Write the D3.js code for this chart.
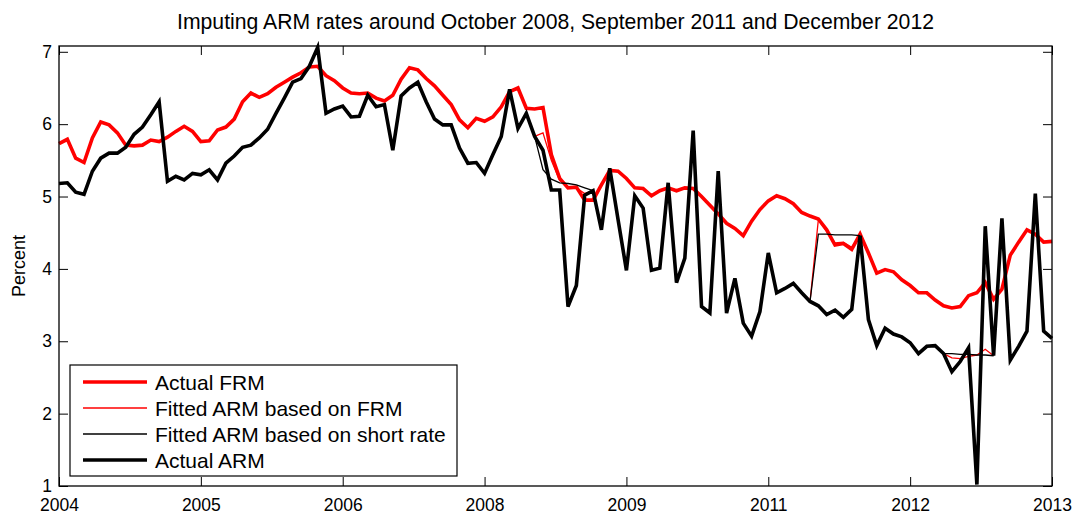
<!DOCTYPE html>
<html>
<head>
<meta charset="utf-8">
<script src="https://cdn.jsdelivr.net/npm/d3@7"></script>
<style>
body { margin: 0; background: #fff; }
text { font-family: "Liberation Sans", Arial, Helvetica, sans-serif; }
</style>
</head>
<body>
<div id="chart"></div>
<script>
// monthly, Jan 2004 .. Dec 2013 (120 points)
const actualFRM = [
    5.73, 5.79, 5.53, 5.47, 5.81, 6.03, 5.99, 5.88, 5.71, 5.70,
    5.71, 5.78, 5.76, 5.82, 5.90, 5.97, 5.90, 5.76, 5.77, 5.92,
    5.96, 6.07, 6.31, 6.43, 6.37, 6.42, 6.51, 6.58, 6.65, 6.71,
    6.79, 6.80, 6.67, 6.60, 6.50, 6.43, 6.42, 6.43, 6.36, 6.32,
    6.40, 6.62, 6.78, 6.75, 6.63, 6.53, 6.40, 6.27, 6.06, 5.95,
    6.08, 6.04, 6.10, 6.24, 6.45, 6.50, 6.22, 6.21, 6.23, 5.58,
    5.25, 5.12, 5.13, 4.95, 4.95, 5.16, 5.36, 5.35, 5.25, 5.12,
    5.11, 5.01, 5.08, 5.12, 5.08, 5.12, 5.11, 5.00, 4.88, 4.76,
    4.63, 4.56, 4.46, 4.66, 4.82, 4.94, 5.01, 4.97, 4.90, 4.78,
    4.73, 4.69, 4.54, 4.33, 4.35, 4.27, 4.48, 4.22, 3.94, 3.99,
    3.96, 3.85, 3.77, 3.67, 3.67, 3.57, 3.49, 3.46, 3.48, 3.63,
    3.67, 3.81, 3.58, 3.72, 4.19, 4.37, 4.54, 4.48, 4.37, 4.38
];

const actualARM = [
    5.18, 5.19, 5.06, 5.03, 5.35, 5.53, 5.60, 5.60, 5.68, 5.86,
    5.96, 6.13, 6.31, 5.21, 5.28, 5.23, 5.32, 5.30, 5.37, 5.23,
    5.46, 5.56, 5.68, 5.71, 5.81, 5.93, 6.15, 6.36, 6.58, 6.63,
    6.80, 7.06, 6.15, 6.21, 6.25, 6.10, 6.11, 6.40, 6.24, 6.27,
    5.64, 6.39, 6.50, 6.58, 6.31, 6.07, 5.99, 5.99, 5.67, 5.46,
    5.47, 5.32, 5.58, 5.83, 6.48, 5.94, 6.15, 5.83, 5.64, 5.09,
    5.09, 3.48, 3.77, 5.02, 5.08, 4.54, 5.39, 4.68, 3.98, 5.01,
    4.84, 3.98, 4.01, 5.19, 3.81, 4.15, 5.91, 3.48, 3.39, 5.35,
    3.39, 3.87, 3.25, 3.07, 3.41, 4.22, 3.67, 3.73, 3.80, 3.67,
    3.55, 3.49, 3.37, 3.43, 3.33, 3.44, 4.46, 3.30, 2.94, 3.18,
    3.10, 3.06, 2.98, 2.83, 2.93, 2.94, 2.83, 2.58, 2.72, 2.91,
    1.02, 4.59, 2.80, 4.70, 2.74, 2.93, 3.14, 5.04, 3.14, 3.04
];

// imputation windows only, null elsewhere
const fittedFRM = new Array(120).fill(null);
const fittedShort = new Array(120).fill(null);
const win1 = 57, win2 = 90, win3 = 106;
const fitFRM1 = [5.83, 5.88, 5.50, 5.22, 5.13, 5.12, 5.04, 5.08],
    fitFRM2 = [3.55, 4.68, 4.52, 4.36, 4.37, 4.30, 4.46],
    fitFRM3 = [2.83, 2.77, 2.76, 2.79, 2.81, 2.89, 2.80];
const fitShort1 = [5.83, 5.37, 5.24, 5.19, 5.18, 5.16, 5.12, 5.08],
    fitShort2 = [3.55, 4.48, 4.48, 4.47, 4.47, 4.47, 4.46],
    fitShort3 = [2.83, 2.83, 2.82, 2.82, 2.81, 2.81, 2.80];
[[win1, fitFRM1, fitShort1], [win2, fitFRM2, fitShort2], [win3, fitFRM3, fitShort3]].forEach(([s, a, b]) => {
    a.forEach((v, k) => { fittedFRM[s + k] = v; });
    b.forEach((v, k) => { fittedShort[s + k] = v; });
});

const xTickLabels = ["2004", "2005", "2006", "2008", "2009", "2011", "2012", "2013"];
const yTicks = [1, 2, 3, 4, 5, 6, 7];
const legendLabels = ["Actual FRM", "Fitted ARM based on FRM", "Fitted ARM based on short rate", "Actual ARM"];

const width = 1078,
    height = 517,
    pLeft = 59, pRight = 1052, pTop = 46, pBottom = 486,

    x = d3.scaleLinear().
        domain([0, 119]).
        range([pLeft, pRight]),

    y = d3.scaleLinear().
        domain([1, 7.08]).
        range([pBottom, pTop]),

    svg = d3.select("#chart").append("svg").
        attr("width", width).
        attr("height", height);

const xTickVals = d3.range(0, 120, 17);

// ticks on all four sides, pointing inward
svg.append("g").
    attr("transform", `translate(0,${pBottom})`).
    call(d3.axisBottom(x).tickValues(xTickVals).
        tickFormat((d, i) => xTickLabels[i]).
        tickSizeInner(-9).tickSizeOuter(0).tickPadding(13)).
    call((g) => g.select(".domain").remove()).
    call((g) => g.selectAll("text").attr("font-size", 17.5).attr("fill", "#000"));

svg.append("g").
    attr("transform", `translate(0,${pTop})`).
    call(d3.axisTop(x).tickValues(xTickVals).tickFormat("").
        tickSizeInner(-9).tickSizeOuter(0)).
    call((g) => g.select(".domain").remove());

svg.append("g").
    attr("transform", `translate(${pLeft},0)`).
    call(d3.axisLeft(y).tickValues(yTicks).tickFormat(d3.format("d")).
        tickSizeInner(-9).tickSizeOuter(0).tickPadding(7)).
    call((g) => g.select(".domain").remove()).
    call((g) => g.selectAll("text").attr("font-size", 17.5).attr("fill", "#000"));

svg.append("g").
    attr("transform", `translate(${pRight},0)`).
    call(d3.axisRight(y).tickValues(yTicks).tickFormat("").
        tickSizeInner(-9).tickSizeOuter(0)).
    call((g) => g.select(".domain").remove());

const line = d3.line().
    defined((d) => d !== null).
    x((d, i) => x(i)).
    y((d) => y(d));

const series = [
    {data: actualFRM, color: "#ff0000", w: 3.6},
    {data: fittedFRM, color: "#ff0000", w: 1.3},
    {data: fittedShort, color: "#000000", w: 1.3},
    {data: actualARM, color: "#000000", w: 3.6}
];

svg.selectAll(".series").
    data(series).
    enter().
    append("path").
    attr("class", "series").
    attr("fill", "none").
    attr("stroke", (d) => d.color).
    attr("stroke-width", (d) => d.w).
    attr("d", (d) => line(d.data));

// axes box
svg.append("rect").
    attr("x", pLeft).
    attr("y", pTop).
    attr("width", pRight - pLeft).
    attr("height", pBottom - pTop).
    attr("fill", "none").
    attr("stroke", "#000").
    attr("stroke-width", 1.3);

svg.append("text").
    attr("x", (pLeft + pRight) / 2).
    attr("y", 29).
    attr("text-anchor", "middle").
    attr("font-size", 21.2).
    text("Imputing ARM rates around October 2008, September 2011 and December 2012");

svg.append("text").
    attr("transform", `translate(25,${(pTop + pBottom) / 2}) rotate(-90)`).
    attr("text-anchor", "middle").
    attr("font-size", 18).
    text("Percent");

// legend
const lg = svg.append("g").attr("transform", "translate(70,365)");
lg.append("rect").
    attr("width", 387).
    attr("height", 111).
    attr("fill", "#fff").
    attr("stroke", "#000").
    attr("stroke-width", 1.2);

const rows = lg.selectAll(".row").
    data(series).
    enter().
    append("g").
    attr("transform", (d, i) => `translate(0,${17 + i * 26})`);

rows.append("line").
    attr("x1", 13).
    attr("x2", 77).
    attr("stroke", (d) => d.color).
    attr("stroke-width", (d) => d.w);

rows.append("text").
    attr("x", 85).
    attr("y", 7.5).
    attr("font-size", 21).
    text((d, i) => legendLabels[i]);
</script>
</body>
</html>
